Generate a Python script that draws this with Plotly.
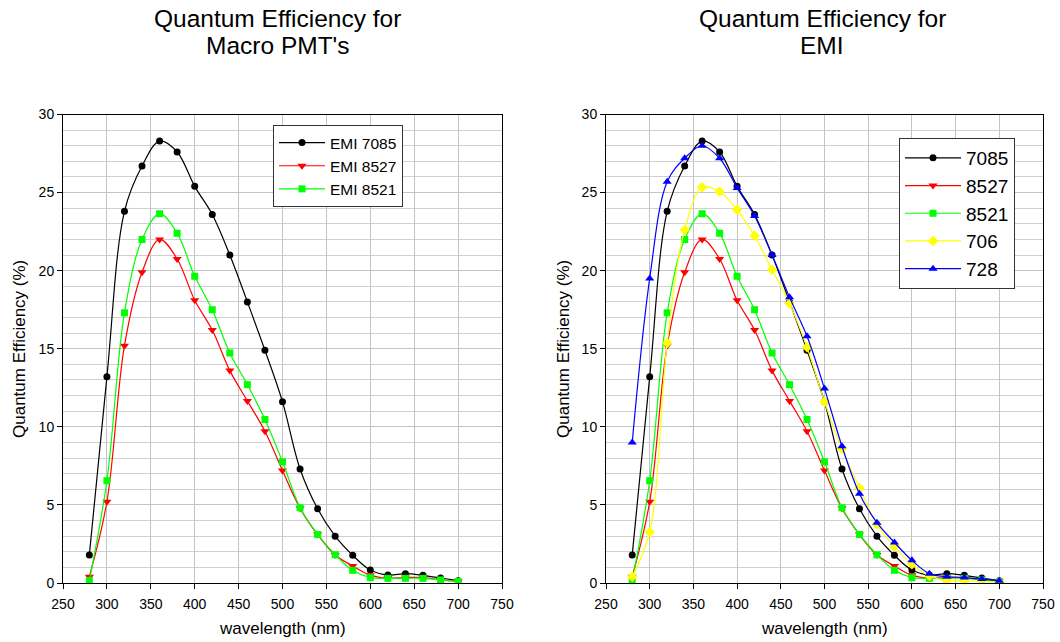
import plotly.graph_objects as go

wavelength = [280, 300, 320, 340, 360, 380, 400, 420, 440, 460, 480, 500,
              520, 540, 560, 580, 600, 620, 640, 660, 680, 700]

emi7085 = [1.8, 13.2, 23.8, 26.7, 28.3, 27.6, 25.4, 23.6, 21.0, 18.0, 14.9, 11.6,
           7.3, 4.75, 3.0, 1.77, 0.83, 0.51, 0.6, 0.49, 0.32, 0.15]
emi8527 = [0.4, 5.2, 15.2, 19.9, 22.0, 20.75, 18.1, 16.2, 13.6, 11.66, 9.72, 7.2,
           4.78, 3.1, 1.79, 1.09, 0.5, 0.3, 0.35, 0.35, 0.2, 0.1]
emi8521 = [0.15, 6.55, 17.3, 22.0, 23.65, 22.4, 19.64, 17.5, 14.73, 12.7, 10.47, 7.76,
           4.82, 3.11, 1.81, 0.81, 0.34, 0.3, 0.3, 0.3, 0.2, 0.1]
emi706 = [0.4, 3.27, 15.37, 22.6, 25.34, 25.06, 23.9, 22.24, 20.06, 17.9, 15.1, 11.6,
          8.6, 6.09, 3.76, 2.33, 1.2, 0.45, 0.15, 0.15, 0.1, 0.05]
emi728 = [9.0, 19.5, 25.7, 27.2, 28.0, 27.2, 25.3, 23.5, 21.0, 18.3, 15.8, 12.45,
          8.76, 5.72, 3.86, 2.6, 1.45, 0.6, 0.4, 0.35, 0.25, 0.15]

left_names = ["EMI 7085", "EMI 8527", "EMI 8521"]
right_names = ["7085", "8527", "8521", "706", "728"]
left_title = ["Quantum Efficiency for", "Macro PMT's"]
right_title = ["Quantum Efficiency for", "EMI"]
x_title = "wavelength (nm)"
y_title = "Quantum Efficiency (%)"

FONT = "Liberation Sans, Arial, sans-serif"
styles = [
    dict(color="#000000", symbol="circle", size=7),
    dict(color="#ff0000", symbol="triangle-down", size=8),
    dict(color="#00ff00", symbol="square", size=7),
    dict(color="#ffff00", symbol="diamond", size=8),
    dict(color="#0000ff", symbol="triangle-up", size=8),
]

fig = go.Figure()

left_series = [emi7085, emi8527, emi8521]
right_series = [emi7085, emi8527, emi8521, emi706, emi728]

for name, ys, st in zip(left_names, left_series, styles):
    fig.add_trace(go.Scatter(
        x=wavelength, y=ys, name=name, mode="lines+markers",
        line=dict(color=st["color"], width=1.2, shape="spline", smoothing=1),
        marker=dict(color=st["color"], symbol=st["symbol"], size=st["size"]),
        xaxis="x", yaxis="y", legend="legend"))

for name, ys, st in zip(right_names, right_series, styles):
    fig.add_trace(go.Scatter(
        x=wavelength, y=ys, name=name, mode="lines+markers",
        line=dict(color=st["color"], width=1.2, shape="spline", smoothing=1),
        marker=dict(color=st["color"], symbol=st["symbol"], size=st["size"]),
        xaxis="x2", yaxis="y2", legend="legend2"))

W, H = 1060, 642


def px(x):
    return x / W


def py(y):
    return 1 - y / H


ydom = [py(583), py(114.5)]


def xax(domain, anchor):
    return dict(domain=domain, anchor=anchor, range=[250, 750], dtick=50,
                automargin=False,
                showgrid=True, gridcolor="#c4c4c4", gridwidth=1,
                showline=True, linecolor="#000000", linewidth=1, mirror=True,
                ticks="outside", ticklen=5, tickcolor="#000000",
                ticklabelstandoff=3,
                zeroline=False,
                tickfont=dict(family=FONT, size=14, color="#000000"))


def yax(domain, anchor):
    return dict(domain=domain, anchor=anchor, range=[0, 30], dtick=5,
                automargin=False,
                showgrid=True, gridcolor="#c4c4c4", gridwidth=1,
                minor=dict(dtick=1, showgrid=True, gridcolor="#d0d0d0", gridwidth=1),
                showline=True, linecolor="#000000", linewidth=1, mirror=True,
                ticks="outside", ticklen=5, tickcolor="#000000",
                zeroline=False,
                tickfont=dict(family=FONT, size=14, color="#000000"))


def ann(text, x, y, size, angle=0):
    return dict(text=text, x=px(x), y=py(y), xref="paper", yref="paper",
                xanchor="center", yanchor="middle", showarrow=False,
                textangle=angle, font=dict(family=FONT, size=size, color="#000000"))


annotations = [
    ann(left_title[0], 277.5, 18, 24.5), ann(left_title[1], 277.5, 45.5, 24.5),
    ann(right_title[0], 822, 18, 24.5), ann(right_title[1], 822, 45.5, 24.5),
    ann(x_title, 282.5, 628, 17), ann(x_title, 824.5, 628, 17),
    ann(y_title, 19, 349, 17, -90), ann(y_title, 563, 349, 17, -90),
]

fig.update_layout(
    width=W, height=H,
    margin=dict(l=0, r=0, t=0, b=0),
    paper_bgcolor="#ffffff", plot_bgcolor="#ffffff",
    xaxis=xax([px(63), px(502)], "y"),
    yaxis=yax(ydom, "x"),
    xaxis2=xax([px(606), px(1043)], "y2"),
    yaxis2=yax(ydom, "x2"),
    annotations=annotations,
    showlegend=True,
    legend=dict(x=px(273), y=py(125), xanchor="left", yanchor="top",
                bgcolor="#ffffff", bordercolor="#333333", borderwidth=1,
                font=dict(family=FONT, size=15.5, color="#000000"),
                itemwidth=46, tracegroupgap=0),
    legend2=dict(x=px(899), y=py(138), xanchor="left", yanchor="top",
                 bgcolor="#ffffff", bordercolor="#333333", borderwidth=1,
                 font=dict(family=FONT, size=19, color="#000000"),
                 itemwidth=56, tracegroupgap=0),
)

fig.write_html("out.html",
               config={"displayModeBar": False},
               post_script="document.body.style.margin='0';document.body.style.padding='0';")
